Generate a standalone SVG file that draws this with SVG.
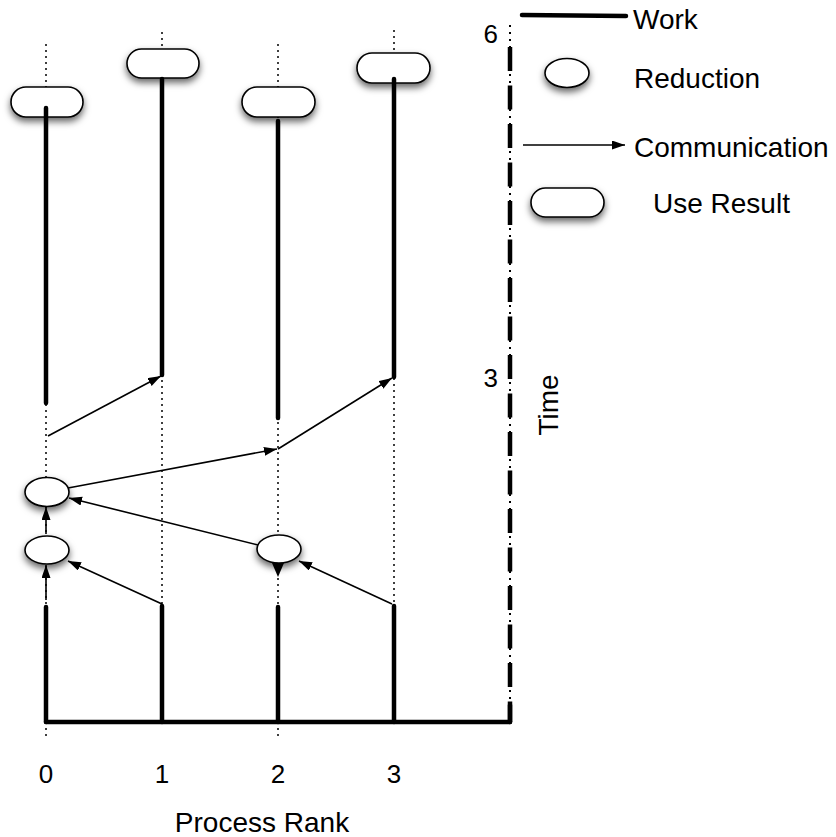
<svg xmlns="http://www.w3.org/2000/svg" width="836" height="837" viewBox="0 0 836 837">
<defs>
<filter id="sh" x="-40%" y="-40%" width="180%" height="200%">
<feDropShadow dx="0" dy="4" stdDeviation="3.5" flood-color="#000" flood-opacity="0.6"/>
</filter>
<marker id="ah" markerUnits="userSpaceOnUse" markerWidth="14" markerHeight="10" refX="13" refY="4.5" orient="auto">
<path d="M0,0 L13,4.5 L0,9 z" fill="#000"/>
</marker>
</defs>
<style>
.dot{stroke:#000;stroke-width:1.5;stroke-dasharray:2 4;fill:none}
.work{stroke:#000;stroke-width:4.5;stroke-linecap:round;fill:none}
.comm{stroke:#000;stroke-width:1.6;fill:none;marker-end:url(#ah)}
.node{fill:#fff;stroke:#000;stroke-width:1.6;filter:url(#sh)}
.t{font-family:"Liberation Sans",Arial,sans-serif;font-size:28px;fill:#000}
.n{font-family:"Liberation Sans",Arial,sans-serif;font-size:26px;fill:#000}
</style>
<rect width="836" height="837" fill="#fff"/>

<g id="rank-lines">
<line class="dot" x1="46" y1="44" x2="46" y2="740"/>
<line class="dot" x1="162" y1="32" x2="162" y2="722"/>
<line class="dot" x1="278" y1="44" x2="278" y2="740"/>
<line class="dot" x1="394" y1="30" x2="394" y2="722"/>
</g>

<g id="time-axis">
<line x1="510" y1="25" x2="510" y2="722" stroke="#000" stroke-width="2" stroke-dasharray="2 5"/>
<line x1="510" y1="47" x2="510" y2="722" stroke="#000" stroke-width="4.5" stroke-dasharray="24 14.5"/>
<text class="n" x="498" y="43" text-anchor="end">6</text>
<text class="n" x="498" y="387" text-anchor="end">3</text>
<text class="t" transform="translate(558,405) rotate(-90)" text-anchor="middle">Time</text>
</g>

<g id="use-result-0"><rect class="node" x="11" y="87" width="72" height="30" rx="15"/></g>
<g id="use-result-1"><rect class="node" x="127" y="49" width="72" height="29" rx="14.5"/></g>
<g id="use-result-2"><rect class="node" x="242" y="87" width="73" height="30" rx="15"/></g>
<g id="use-result-3"><rect class="node" x="357" y="53" width="73" height="30" rx="15"/></g>

<g id="reduction-0a"><ellipse class="node" cx="47" cy="492" rx="22" ry="14.5"/></g>
<g id="reduction-0b"><ellipse class="node" cx="47" cy="550" rx="22" ry="14"/></g>
<g id="reduction-2"><ellipse class="node" cx="279" cy="549" rx="22" ry="14"/></g>

<g id="work">
<line class="work" x1="46" y1="108" x2="46" y2="403"/>
<line class="work" x1="162" y1="79" x2="162" y2="375"/>
<line class="work" x1="278" y1="121" x2="278" y2="418"/>
<line class="work" x1="394" y1="79" x2="394" y2="377"/>
<line class="work" x1="46" y1="607" x2="46" y2="722"/>
<line class="work" x1="162" y1="606" x2="162" y2="722"/>
<line class="work" x1="278" y1="607" x2="278" y2="722"/>
<line class="work" x1="394" y1="606" x2="394" y2="722"/>
<line class="work" x1="46" y1="722" x2="510" y2="722"/>
<line class="work" x1="510" y1="705" x2="510" y2="722"/>
</g>

<g id="connectors">
<line class="comm" x1="48" y1="436" x2="161" y2="376"/>
<line class="comm" x1="278" y1="449" x2="392" y2="378"/>
<line class="comm" x1="68" y1="488" x2="277" y2="449"/>
<line class="comm" x1="258" y1="545" x2="69" y2="498"/>
<line class="comm" x1="162" y1="604" x2="68" y2="561"/>
<line class="comm" x1="392" y1="604" x2="299" y2="561"/>
<line class="comm" x1="46" y1="534" x2="46" y2="507"/>
<line class="comm" x1="46" y1="600" x2="46" y2="565"/>
<path d="M272,563 L284,563 L278,577 z" fill="#000"/>
</g>

<g id="legend">
<line class="work" x1="522" y1="15" x2="626" y2="16"/>
<text class="t" x="633" y="29">Work</text>
<ellipse class="node" cx="567" cy="73" rx="22" ry="14.5"/>
<text class="t" x="634" y="88">Reduction</text>
<line class="comm" x1="523" y1="145" x2="625" y2="145"/>
<text class="t" x="634" y="157">Communication</text>
<rect class="node" x="531" y="188" width="73" height="29" rx="14.5"/>
<text class="t" x="653" y="213">Use Result</text>
</g>

<g id="axis-labels">
<text class="n" x="46" y="783" text-anchor="middle">0</text>
<text class="n" x="162" y="783" text-anchor="middle">1</text>
<text class="n" x="278" y="783" text-anchor="middle">2</text>
<text class="n" x="394" y="783" text-anchor="middle">3</text>
<text class="t" x="262" y="832" text-anchor="middle">Process Rank</text>
</g>
</svg>
